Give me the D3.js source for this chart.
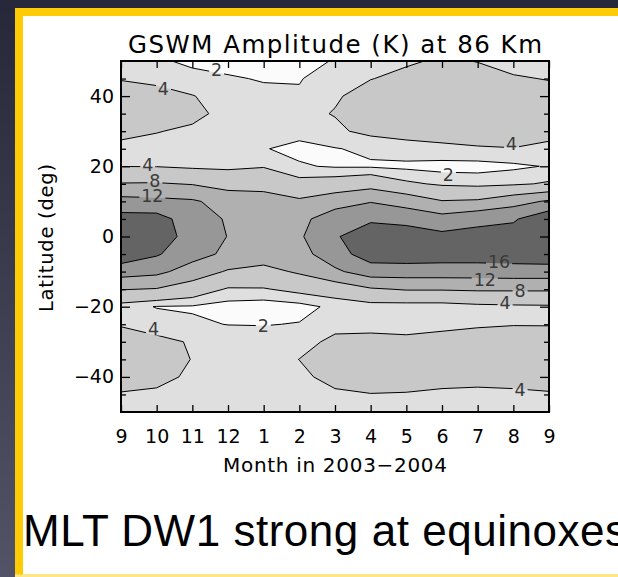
<!DOCTYPE html>
<html>
<head>
<meta charset="utf-8">
<script src="https://cdn.jsdelivr.net/npm/d3@7"></script>
<style>
  html, body { margin: 0; padding: 0; background: #2c2c3e; overflow: hidden; }
  svg { display: block; }
</style>
</head>
<body>
<svg id="chart" width="618" height="577"></svg>
<script>
// ---- data -------------------------------------------------------------
// Month tick labels, Sep 2003 .. Sep 2004
const months = ["9", "10", "11", "12", "1", "2", "3", "4", "5", "6", "7", "8", "9"];
// Latitude rows of the amplitude grid (deg), north to south
const latitudes = [50, 45, 40, 35, 30, 25, 20, 15, 10, 5, 0, -5, -10, -15, -20, -25, -30, -35, -40, -45, -50];

// GSWM DW1 temperature amplitude (K) at 86 km, one profile per month
const sep03 = [3.4, 3.9, 4.8, 5.0, 4.4, 3.6, 3.95, 8.2, 13.4, 17.5, 19.5, 18.6, 13.8, 8.2, 2.9, 3.9, 4.6, 5.0, 4.6, 3.9, 3.0];
const oct03 = [2.3, 3.6, 4.6, 5.0, 4.1, 3.2, 3.9, 8.3, 13.0, 17.5, 18.0, 16.4, 13.0, 7.8, 1.9, 3.0, 4.6, 4.8, 4.5, 3.7, 2.8];
const nov03 = [1.6, 2.6, 4.1, 4.6, 3.6, 2.8, 3.5, 7.8, 12.5, 14.0, 14.5, 13.5, 10.2, 6.0, 1.8, 2.3, 3.8, 3.95, 3.7, 3.2, 2.5];
const dec03 = [1.3, 2.2, 3.0, 3.3, 3.0, 2.6, 3.4, 6.5, 10.5, 11.6, 11.9, 11.2, 7.6, 3.7, 1.2, 1.95, 3.2, 3.5, 3.4, 3.0, 2.4];
const jan04 = [1.2, 1.85, 2.5, 3.0, 2.9, 2.1, 3.8, 6.8, 9.5, 10.5, 10.8, 10.0, 6.8, 3.8, 0.9, 1.9, 3.1, 3.3, 3.2, 3.0, 2.6];
const feb04 = [1.5, 1.85, 2.3, 3.5, 2.6, 1.5, 2.2, 5.0, 8.6, 11.0, 11.5, 10.6, 8.5, 4.8, 1.3, 2.1, 3.4, 4.02, 3.6, 3.0, 2.6];
const mar04 = [2.1, 3.2, 3.8, 4.1, 3.6, 1.9, 1.8, 5.5, 10.4, 14.0, 15.5, 14.3, 11.3, 5.6, 2.5, 3.5, 4.4, 4.8, 4.6, 3.7, 3.0];
const apr04 = [3.5, 3.95, 4.7, 5.2, 4.6, 2.4, 1.75, 6.5, 11.8, 15.2, 19.0, 18.0, 14.0, 7.6, 2.9, 3.6, 4.4, 5.0, 4.8, 3.95, 3.1];
const may04 = [3.8, 4.4, 5.0, 5.4, 4.8, 3.2, 1.5, 4.5, 10.5, 14.5, 18.5, 18.3, 14.0, 8.3, 2.8, 3.7, 4.2, 4.9, 4.7, 3.9, 3.1];
const jun04 = [4.2, 4.8, 5.3, 5.5, 4.8, 3.6, 1.2, 3.6, 8.2, 13.5, 17.0, 18.0, 14.0, 8.3, 2.8, 3.8, 4.3, 4.9, 4.6, 3.7, 3.0];
const jul04 = [3.95, 4.6, 5.2, 5.4, 4.8, 3.85, 1.2, 3.3, 8.5, 15.0, 17.2, 18.0, 14.0, 8.5, 3.3, 3.9, 4.4, 5.0, 4.7, 3.5, 3.0];
const aug04 = [3.3, 4.2, 5.0, 5.3, 4.8, 3.95, 1.6, 3.6, 10.5, 15.5, 17.8, 18.2, 14.2, 8.5, 3.5, 3.95, 4.6, 5.0, 4.6, 3.7, 3.0];
const sep04 = [2.8, 3.9, 4.8, 5.1, 4.4, 3.7, 2.15, 4.3, 12.5, 19.0, 19.5, 18.5, 14.2, 8.5, 3.6, 3.95, 4.5, 4.9, 4.7, 3.85, 3.0];
const amplitudeByMonth = [sep03, oct03, nov03, dec03, jan04, feb04, mar04, apr04, may04, jun04, jul04, aug04, sep04];

// Contour levels (K)
const levels = [2, 4, 8, 12, 16];
// Latitude ticks
const latMajorTicks = [-40, -20, 0, 20, 40];
const latMinorTicks = [-45, -35, -30, -25, -15, -10, -5, 5, 10, 15, 25, 30, 35, 45];

// Contour labels: level shown, anchored at (month index, latitude)
const labelLevel = [2, 4, 4, 8, 12, 2, 4, 16, 12, 8, 4, 2, 4, 4];
const labelMonth = [2.68, 1.19, 0.75, 0.95, 0.88, 9.18, 10.95, 10.6, 10.2, 11.19, 10.77, 3.99, 0.91, 11.19];
const labelLat   = [47.4, 42.2, 20.4, 15.9, 11.5, 17.5, 26.5, -7.3, -12.3, -15.3, -19.0, -25.4, -26.2, -43.7];

// ---- drawing ----------------------------------------------------------
const W = 618, H = 577;
const plot = { left: 121, right: 549, top: 61, bottom: 412 };
const bandFills = ["#fbfbfb", "#dfdfdf", "#c8c8c8", "#b0b0b0", "#979797", "#646464"];
const axisFont = "'DejaVu Sans', sans-serif";

const svg = d3.select("#chart");
const defs = svg.append("defs");

// slide frame
const bg = defs.append("linearGradient").attr("id", "edgeShade")
  .attr("x1", 0).attr("y1", 0).attr("x2", 0).attr("y2", 1);
bg.append("stop").attr("offset", "0%").attr("stop-color", "#27273a");
bg.append("stop").attr("offset", "100%").attr("stop-color", "#535367");
svg.append("rect").attr("width", W).attr("height", H).attr("fill", "url(#edgeShade)");
svg.append("rect").attr("x", 15).attr("y", 8).attr("width", W).attr("height", H).attr("fill", "#ffcb05");
svg.append("rect").attr("x", 23).attr("y", 16).attr("width", W).attr("height", 558.5).attr("fill", "#ffffff");
svg.append("rect").attr("x", 15).attr("y", 574.5).attr("width", W).attr("height", 3).attr("fill", "#fde58a");

// scales
const nx = months.length, ny = latitudes.length;
const x = d3.scaleLinear().domain([0, nx - 1]).range([plot.left, plot.right]);
const y = d3.scaleLinear().domain([-50, 50]).range([plot.bottom, plot.top]);
const latStep = latitudes[1] - latitudes[0];

// grid (row-major, north row first)
const values = new Array(nx * ny);
for (let r = 0; r < ny; r++)
  for (let c = 0; c < nx; c++)
    values[r * nx + c] = amplitudeByMonth[c][r];

const bands = d3.contours().size([nx, ny]).thresholds(levels)(values);

// grid cell centres sit at (i + 0.5, j + 0.5) in contour space
const gridToPlot = d3.geoTransform({
  point(px, py) {
    this.stream.point(x(px - 0.5), y(latitudes[0] + (py - 0.5) * latStep));
  }
});
const path = d3.geoPath(gridToPlot);

defs.append("clipPath").attr("id", "plotClip")
  .append("rect").attr("x", plot.left).attr("y", plot.top)
  .attr("width", plot.right - plot.left).attr("height", plot.bottom - plot.top);

// label gaps in the contour lines
const labelData = labelLevel.map((lv, i) => ({ text: String(lv), m: labelMonth[i], lat: labelLat[i] }));
const gapMask = defs.append("mask").attr("id", "labelGaps")
  .attr("maskUnits", "userSpaceOnUse").attr("x", 0).attr("y", 0).attr("width", W).attr("height", H);
gapMask.append("rect").attr("width", W).attr("height", H).attr("fill", "#fff");
gapMask.selectAll("rect.gap").data(labelData).join("rect").attr("class", "gap")
  .attr("x", d => x(d.m) - (d.text.length * 11 + 4) / 2)
  .attr("y", d => y(d.lat) - 7)
  .attr("width", d => d.text.length * 11 + 4)
  .attr("height", 14)
  .attr("fill", "#000");

// filled bands
const fillG = svg.append("g").attr("clip-path", "url(#plotClip)");
fillG.append("rect").attr("x", plot.left).attr("y", plot.top)
  .attr("width", plot.right - plot.left).attr("height", plot.bottom - plot.top)
  .attr("fill", bandFills[0]);
fillG.selectAll("path").data(bands).join("path")
  .attr("d", path)
  .attr("fill", (d, i) => bandFills[i + 1]);

// contour lines
const lineG = svg.append("g").attr("clip-path", "url(#plotClip)");
lineG.append("g").attr("mask", "url(#labelGaps)")
  .selectAll("path").data(bands).join("path")
  .attr("d", path)
  .attr("fill", "none")
  .attr("stroke", "#000")
  .attr("stroke-width", 1)
  .attr("stroke-linejoin", "round");

// contour labels
svg.append("g").selectAll("text").data(labelData).join("text")
  .attr("x", d => x(d.m)).attr("y", d => y(d.lat))
  .attr("text-anchor", "middle").attr("dy", "0.36em")
  .attr("font-family", axisFont).attr("font-size", 17.5)
  .attr("fill", "#3a3a3a")
  .text(d => d.text);

// axes
function styleAxis(g) {
  g.select(".domain").remove();
  g.selectAll("line").attr("stroke", "#000").attr("stroke-width", 1.3);
  g.selectAll("text").attr("font-family", axisFont).attr("font-size", 19).attr("fill", "#000");
}
svg.append("g").attr("transform", `translate(${plot.left},0)`)
  .call(d3.axisLeft(y).tickValues(latMajorTicks).tickSizeInner(-9).tickSizeOuter(0).tickPadding(7)
    .tickFormat(d3.format("d")))
  .call(styleAxis);
svg.append("g").attr("transform", `translate(${plot.left},0)`)
  .call(d3.axisLeft(y).tickValues(latMinorTicks).tickSizeInner(-5).tickSizeOuter(0).tickFormat(""))
  .call(styleAxis);
svg.append("g").attr("transform", `translate(${plot.right},0)`)
  .call(d3.axisRight(y).tickValues(latMajorTicks).tickSizeInner(-9).tickSizeOuter(0).tickFormat(""))
  .call(styleAxis);
svg.append("g").attr("transform", `translate(${plot.right},0)`)
  .call(d3.axisRight(y).tickValues(latMinorTicks).tickSizeInner(-5).tickSizeOuter(0).tickFormat(""))
  .call(styleAxis);
svg.append("g").attr("transform", `translate(0,${plot.bottom})`)
  .call(d3.axisBottom(x).tickValues(d3.range(nx)).tickFormat(i => months[i])
    .tickSizeInner(-7).tickSizeOuter(0).tickPadding(18))
  .call(styleAxis);
svg.append("g").attr("transform", `translate(0,${plot.top})`)
  .call(d3.axisTop(x).tickValues(d3.range(nx)).tickSizeInner(-7).tickSizeOuter(0).tickFormat(""))
  .call(styleAxis);

// plot frame
svg.append("rect").attr("x", plot.left).attr("y", plot.top)
  .attr("width", plot.right - plot.left).attr("height", plot.bottom - plot.top)
  .attr("fill", "none").attr("stroke", "#000").attr("stroke-width", 2);

// titles
svg.append("text").attr("x", 335).attr("y", 53)
  .attr("text-anchor", "middle").attr("font-family", axisFont).attr("font-size", 24.5)
  .attr("textLength", 414).attr("lengthAdjust", "spacing")
  .text("GSWM Amplitude (K) at 86 Km");
svg.append("text").attr("x", 335).attr("y", 472)
  .attr("text-anchor", "middle").attr("font-family", axisFont).attr("font-size", 20)
  .attr("textLength", 224).attr("lengthAdjust", "spacing")
  .text("Month in 2003\u22122004");
svg.append("text").attr("transform", "translate(53,238) rotate(-90)")
  .attr("text-anchor", "middle").attr("font-family", axisFont).attr("font-size", 19.5)
  .attr("textLength", 148).attr("lengthAdjust", "spacing")
  .text("Latitude (deg)");

// slide caption
svg.append("text").attr("x", 23).attr("y", 546)
  .attr("font-family", "'Liberation Sans', Arial, sans-serif").attr("font-size", 44)
  .attr("textLength", 604).attr("lengthAdjust", "spacing")
  .text("MLT DW1 strong at equinoxes");
</script>
</body>
</html>
